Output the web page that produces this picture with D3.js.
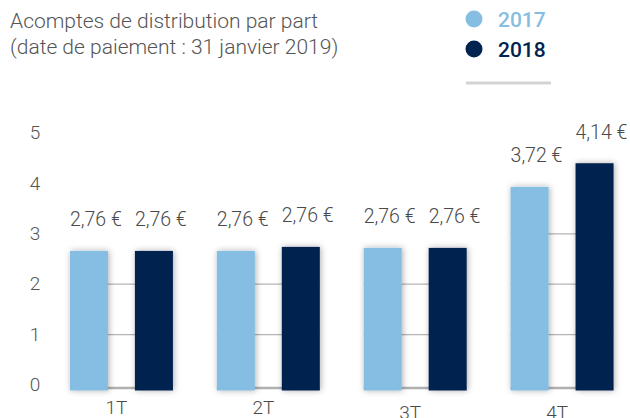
<!DOCTYPE html>
<html><head><meta charset="utf-8">
<script src="https://cdn.jsdelivr.net/npm/d3@7"></script>
<style>
html,body{margin:0;padding:0;background:#fff;}
svg{display:block;}
text{font-family:Roboto,"Noto Sans",sans-serif;}
</style></head>
<body>
<svg id="c" width="630" height="418"></svg>
<script>
const categories = ["1T", "2T", "3T", "4T"];
const seriesNames = ["2017", "2018"];
const values2017 = [2.66, 2.66, 2.72, 3.93];
const values2018 = [2.66, 2.74, 2.72, 4.40];
const labels2017 = ["2,76 €", "2,76 €", "2,76 €", "3,72 €"];
const labels2018 = ["2,76 €", "2,76 €", "2,76 €", "4,14 €"];
const yTicks = [0, 1, 2, 3, 4, 5];
const titleLines = ["Acomptes de distribution par part", "(date de paiement : 31 janvier 2019)"];
const colors = {"2017": "#85bee2", "2018": "#00234f"};

const svg = d3.select("#c");
const defs = svg.append("defs");
const f = defs.append("filter").attr("id","sh").attr("x","-40%").attr("y","-20%").attr("width","180%").attr("height","140%");
f.append("feDropShadow").attr("dx",1).attr("dy",0).attr("stdDeviation",3).attr("flood-color","#000").attr("flood-opacity",0.32);

const y = d3.scaleLinear().domain([0,5]).range([385, 133]);
const x0 = d3.scaleBand().domain(categories).range([48, 635.5]).padding(0);
const groupW = 103;
const x1 = d3.scaleBand().domain(seriesNames)
  .range([(x0.bandwidth()-groupW)/2, (x0.bandwidth()+groupW)/2]).paddingInner(0.415).paddingOuter(0);

const data = categories.map((c,i)=>({cat:c, items:[
  {s:"2017", v:values2017[i], l:labels2017[i]},
  {s:"2018", v:values2018[i], l:labels2018[i]}]}));

// title
svg.append("g").selectAll("text").data(titleLines).join("text")
  .attr("x", 10).attr("y", (d,i)=>28 + i*25.5)
  .attr("font-size", 21).attr("font-weight", 300).attr("fill", "#555")
  .text(d=>d);

// legend
const lg = svg.append("g").selectAll("g").data(seriesNames).join("g")
  .attr("transform", (d,i)=>`translate(474,${19 + i*30})`);
lg.append("circle").attr("r", 8.5).attr("fill", d=>colors[d]);
lg.append("text").attr("x", 24).attr("dy", "0.36em").attr("font-size", 21)
  .attr("font-weight", 500).attr("fill", d=>colors[d]).text(d=>d);
svg.append("line").attr("x1",466).attr("x2",551).attr("y1",83).attr("y2",83)
  .attr("stroke","#d3d3d3").attr("stroke-width",3);

// y axis
const ya = svg.append("g").call(d3.axisLeft(y).tickValues(yTicks).tickSize(0).tickFormat(d3.format("d")));
ya.select(".domain").remove();
ya.selectAll("text").attr("x", 35).attr("dy","0.3em").attr("text-anchor","middle")
  .attr("font-size", 19).attr("font-weight", 300).attr("fill", "#555").attr("font-family","Roboto,sans-serif");

// groups
const g = svg.append("g").selectAll("g").data(data).join("g")
  .attr("transform", d=>`translate(${x0(d.cat)},0)`);

// gridlines between bars, up to the shorter bar
g.each(function(d){
  const minV = d3.min(d.items, e=>e.v);
  const ticks = yTicks.filter(t=>t>0 && t<=minV);
  const gx1 = x1("2017"), gx2 = x1("2018") + x1.bandwidth();
  d3.select(this).selectAll("line.grid").data(ticks).join("line").attr("class","grid")
    .attr("x1", gx1).attr("x2", gx2).attr("y1", t=>y(t)).attr("y2", t=>y(t))
    .attr("stroke", "#b5b5b5").attr("stroke-width", 1.3);
  d3.select(this).append("line")
    .attr("x1", gx1).attr("x2", gx2).attr("y1", y(0)+3).attr("y2", y(0)+3)
    .attr("stroke", "#b0b0b0").attr("stroke-width", 2.5);
});

g.selectAll("rect").data(d=>d.items).join("rect")
  .attr("x", d=>x1(d.s)).attr("width", x1.bandwidth())
  .attr("y", d=>y(d.v)).attr("height", d=>y(0)+5.5-y(d.v))
  .attr("fill", d=>colors[d.s]).attr("filter","url(#sh)");

g.selectAll("text.val").data(d=>d.items).join("text").attr("class","val")
  .attr("x", d=>x1(d.s)).attr("y", d=>y(d.v)-24.5)
  .attr("font-size", 19.5).attr("font-weight", 300).attr("fill", "#4a4a4a")
  .text(d=>d.l);

// x axis labels
const xa = svg.append("g").call(d3.axisBottom(x0).tickSize(0));
xa.select(".domain").remove();
xa.selectAll(".tick text")
  .attr("y", (d,i)=> i<2 ? 414 : 418.5).attr("dy", 0).attr("dx", -5)
  .attr("font-size", 19).attr("font-weight", 300).attr("fill", "#4a4a4a")
  .attr("font-family","Roboto,sans-serif");
</script>
</body></html>
